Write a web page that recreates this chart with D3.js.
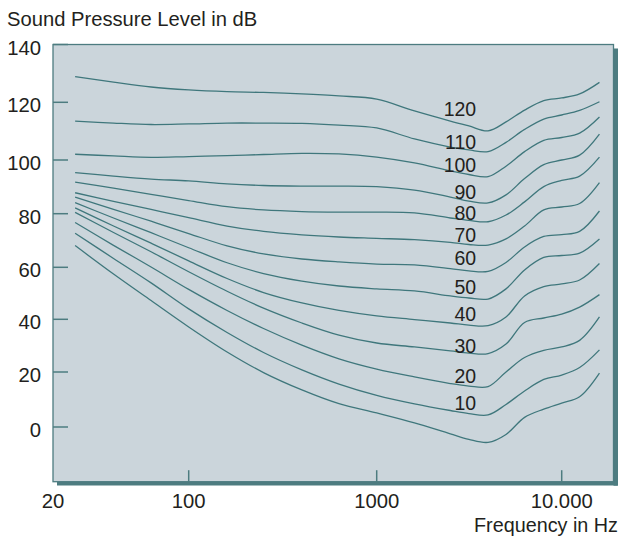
<!DOCTYPE html>
<html><head><meta charset="utf-8">
<script src="https://cdn.jsdelivr.net/npm/d3@7"></script>
<style>
html,body{margin:0;padding:0;background:#fff;}
svg text{font-family:"Liberation Sans",Arial,Helvetica,sans-serif;fill:#231f20;}
</style></head>
<body><svg id="c" width="620" height="537"></svg>
<script>
// ---- data ----
const freqs = [26, 41, 64, 100, 160, 250, 400, 630, 1000, 1600, 2500, 3150, 4000, 5000, 6300, 8000, 10000, 12500, 16000];
const phon120 = [128.9,127.0,125.3,124.3,123.7,123.4,122.9,122.2,121.1,117.0,113.5,111.8,110.1,113.2,117.3,120.6,121.5,122.9,126.9];
const phon110 = [113.5,112.8,112.3,112.5,112.8,112.8,112.7,112.1,111.1,107.3,104.5,103.5,102.9,106.1,110.6,114.2,115.6,117.2,120.2];
const phon100 = [102.0,101.4,100.9,101.2,101.5,101.9,102.3,102.1,101.0,98.9,95.9,94.6,93.8,97.7,102.9,106.8,107.8,109.3,114.9];
const phon90  = [95.3,94.0,92.9,92.2,91.1,90.5,90.3,90.3,90.1,88.8,86.2,84.7,84.0,87.0,93.1,98.3,100.0,101.7,109.0];
const phon80  = [91.8,89.5,87.2,84.9,82.6,81.4,80.8,80.6,80.6,80.3,78.4,77.5,77.0,79.5,84.4,90.1,92.4,94.0,101.0];
const phon70  = [87.8,84.6,81.6,78.5,75.4,73.4,72.1,71.3,70.8,70.3,69.3,68.5,68.3,70.6,75.4,81.4,82.5,83.8,91.6];
const phon60  = [86.2,81.6,77.2,72.6,68.0,65.0,63.1,62.0,61.2,60.9,59.5,58.6,58.4,61.8,67.6,71.5,72.2,73.4,81.0];
const phon50  = [84.1,78.4,72.9,67.3,61.7,57.6,54.7,52.8,51.7,50.9,49.0,48.2,47.8,51.7,59.0,63.7,64.4,65.3,70.6];
const phon40  = [82.2,75.4,69.0,62.4,55.7,50.3,46.3,43.4,41.3,39.9,38.6,37.8,37.6,40.9,49.0,52.6,53.6,55.1,61.4];
const phon30  = [80.5,73.0,65.8,58.3,50.8,44.3,38.6,34.0,31.0,29.5,28.0,27.2,27.0,30.6,38.8,40.5,42.0,44.7,49.5];
const phon20  = [76.7,68.2,60.1,51.5,43.4,36.5,30.2,25.0,21.1,18.2,15.8,14.9,14.7,20.0,25.5,28.2,29.5,32.0,40.9];
const phon10  = [72.7,63.3,54.0,44.0,35.0,27.4,20.8,15.6,11.5,8.4,6.0,4.9,4.4,8.2,13.1,17.3,18.9,21.7,28.4];
const threshold = [68.1,57.4,47.2,37.1,27.6,19.8,13.5,8.5,5.1,1.5,-2.5,-4.5,-5.6,-2.7,3.5,6.5,8.7,11.0,19.6];
const curves = [phon120, phon110, phon100, phon90, phon80, phon70, phon60, phon50, phon40, phon30, phon20, phon10, threshold];
const curveLabels = ["120","110","100","90","80","70","60","50","40","30","20","10"];
const labelDb = [117.6,106.3,98.1,88.2,80.1,72.1,63.3,52.5,42.0,30.0,18.7,8.6];
const labelFreq = 3450;
const yTicks = [0,20,40,60,80,100,120,140];
const xTicks = [20,100,1000,10000];
const xTickLabels = ["20","100","1000","10.000"];
const yTitle = "Sound Pressure Level in dB";
const xTitle = "Frequency in Hz";

// ---- layout ----
const svg = d3.select("#c");
const L = 53, T = 44.5, R = 613.5, B = 481.7;
const lineCol = "#3f777c", frameCol = "#4d7c80", bg = "#cbd5db";

const x = d3.scaleLog().domain([20,100,1000,10000]).range([53,188.7,376.7,561.7]);
const y = d3.scaleLinear().domain(yTicks).range([427,372,319.3,267.3,213.7,160,102.3,44.5]);

// shadow
svg.append("rect").attr("x",R).attr("y",T+4).attr("width",4.5).attr("height",B-T).attr("fill",frameCol);
svg.append("rect").attr("x",L+4).attr("y",B).attr("width",R-L).attr("height",3.8).attr("fill",frameCol);
// plot background + frame
svg.append("rect").attr("x",L).attr("y",T).attr("width",R-L).attr("height",B-T)
  .attr("fill",bg).attr("stroke",frameCol).attr("stroke-width",1.3);

// y ticks (inside)
svg.append("g").selectAll("line").data(yTicks).join("line")
  .attr("x1",L).attr("x2",L+15).attr("y1",d=>y(d)).attr("y2",d=>y(d))
  .attr("stroke",frameCol).attr("stroke-width",1.5);
svg.append("g").selectAll("text").data(yTicks).join("text")
  .attr("x",41).attr("y",d=>y(d)).attr("dy","0.5em").attr("text-anchor","end")
  .attr("font-size",20.3).text(d=>d);

// x ticks (inside, from bottom)
svg.append("g").selectAll("line").data(xTicks.slice(1)).join("line")
  .attr("x1",d=>x(d)).attr("x2",d=>x(d)).attr("y1",B).attr("y2",B-11.5)
  .attr("stroke",frameCol).attr("stroke-width",1.5);
svg.append("g").selectAll("text").data(xTicks).join("text")
  .attr("x",d=>x(d)).attr("y",508).attr("text-anchor","middle")
  .attr("font-size",20.3).text((d,i)=>xTickLabels[i]);

// titles
svg.append("text").attr("x",7).attr("y",26).attr("font-size",20.2).text(yTitle);
svg.append("text").attr("x",618).attr("y",532).attr("text-anchor","end").attr("font-size",19.8).text(xTitle);

// curves
const line = d3.line().x((d,i)=>x(freqs[i])).y(d=>y(d)).curve(d3.curveCatmullRom.alpha(0.5));
svg.append("g").selectAll("path").data(curves).join("path")
  .attr("d",line).attr("fill","none").attr("stroke",lineCol).attr("stroke-width",1.3);

// curve labels
svg.append("g").selectAll("text").data(curveLabels).join("text")
  .attr("x",x(labelFreq)).attr("y",(d,i)=>y(labelDb[i])).attr("dy","0.36em")
  .attr("text-anchor","end").attr("font-size",19.5).text(d=>d);
</script></body></html>
